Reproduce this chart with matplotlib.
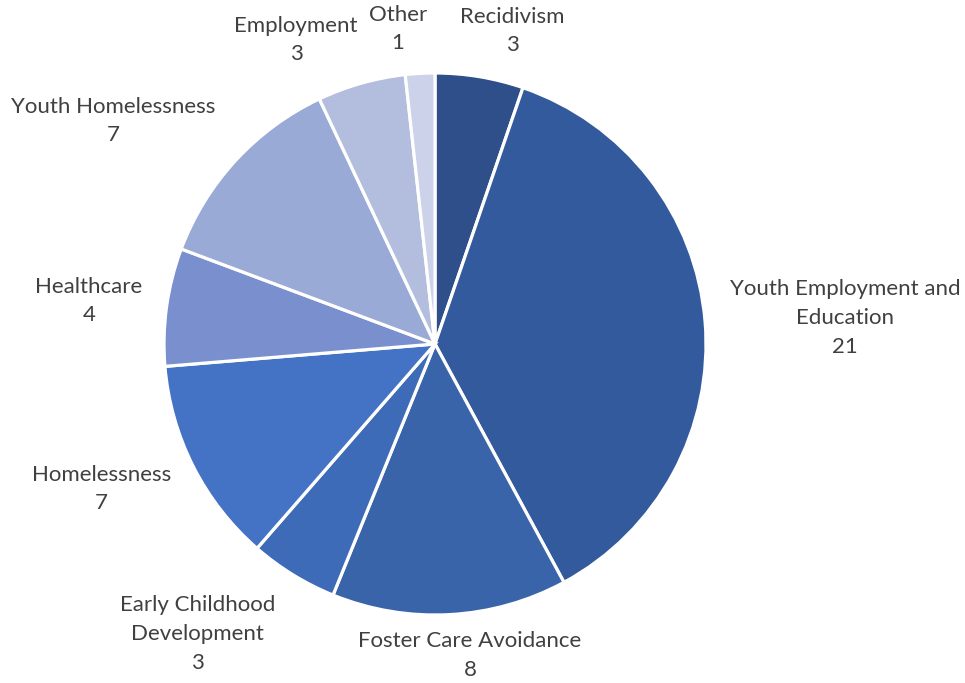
import numpy as np
import matplotlib.pyplot as plt

labels = ["Recidivism", "Youth Employment and\nEducation", "Foster Care Avoidance",
          "Early Childhood\nDevelopment", "Homelessness", "Healthcare",
          "Youth Homelessness", "Employment", "Other"]
counts = [3, 21, 8, 3, 7, 4, 7, 3, 1]
colors = ["#2E4F8A", "#325A9C", "#3A64AA", "#3D6BB8", "#4472C4",
          "#7A90CE", "#99AAD6", "#B3BEDF", "#CBD2E9"]

# label block centres, in units of the pie radius
label_pos = [(0.284, 1.155), (1.513, 0.096), (0.129, -1.148), (-0.875, -1.070),
             (-1.232, -0.535), (-1.277, 0.159), (-1.188, 0.823), (-0.513, 1.122),
             (-0.137, 1.162)]

W, H = 965, 683
fig = plt.figure(figsize=(W / 100, H / 100), dpi=100)
cx, cy, r = 435, 344, 271
ax = fig.add_axes([(cx - r) / W, (H - cy - r) / H, 2 * r / W, 2 * r / H])

ax.pie(counts, colors=colors, startangle=90, counterclock=False, radius=1,
       wedgeprops=dict(edgecolor="white", linewidth=2.3))
ax.set_xlim(-1, 1)
ax.set_ylim(-1, 1)
ax.set_aspect("equal")
ax.axis("off")

for lab, n, (x, y) in zip(labels, counts, label_pos):
    ax.text(x, y, f"{lab}\n{n}", ha="center", va="center", fontsize=16,
            family="Lato", color="#404040", linespacing=1.55, clip_on=False)

fig.savefig("out.png", dpi=100)
